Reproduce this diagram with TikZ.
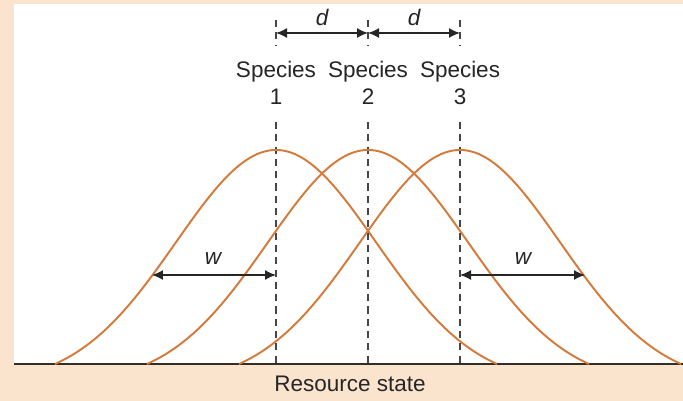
\documentclass[tikz,border=0pt]{standalone}
\usepackage{fontspec}
\setmainfont{Liberation Sans}
\usepackage{xcolor}
\usepackage{tikz}
\usetikzlibrary{arrows.meta, positioning}
\definecolor{figpeach}{RGB}{251,228,206}
\definecolor{figcurve}{RGB}{212,122,58}
\definecolor{figaxis}{RGB}{52,46,40}
\definecolor{figguide}{RGB}{70,70,70}
\tikzstyle{niche} = [draw=figcurve, line width=1.1pt]
\tikzstyle{guide} = [draw=figguide, line width=0.75pt, dash pattern=on 4pt off 3pt]
\tikzstyle{axisline} = [draw=figaxis, line width=1.7pt]
\tikzstyle{arrow} = [{Latex[length=2.2mm, width=2mm]}-{Latex[length=2.2mm, width=2mm]}, line width=0.8pt, draw=black!85]
\tikzstyle{label} = [font=\fontsize{12.8}{15.3}\selectfont, align=center, text=black!85, inner sep=0pt]

\begin{document}
\begin{tikzpicture}[x=0.02cm, y=-0.02cm]
    \useasboundingbox (0,0) rectangle (683,401);
    \fill[figpeach] (0,0) rectangle (683,401);
    \fill[white] (14,4) rectangle (683,364);

    % resource axis
    \coordinate (axl) at (14,364);
    \coordinate (axr) at (683,364);
    \draw[axisline] (axl) -- (axr);
    \node (res) [label] at (350,384) {Resource state};

    % species labels and niche curves
    \foreach \i/\c in {1/276, 2/368, 3/460} {
        \node (sp\i) [label] at (\c,83) {Species\\\i};
        \coordinate (top\i) at (\c,122);
        \coordinate (base\i) at (\c,364);
        \coordinate (tka\i) at (\c,20);
        \coordinate (tkb\i) at (\c,45);
        \draw[guide] (top\i) -- (base\i);
        \draw[guide] (tka\i) -- (tkb\i);
        \draw[niche] plot[domain=-221:221, samples=90, smooth]
            ({\c+\x}, {364-214*(exp(-((\x/100)^2)/2)-0.087)/0.913});
    }

    % spacing d
    \coordinate (d1) at (276,33);
    \coordinate (d2) at (368,33);
    \coordinate (d3) at (460,33);
    \draw[arrow] (d1) -- (d2);
    \draw[arrow] (d2) -- (d3);
    \node (dl) [label] at (322,17) {\itshape d};
    \node (dr) [label] at (414,17) {\itshape d};

    % width w
    \coordinate (wa) at (152,275);
    \coordinate (wb) at (276,275);
    \coordinate (wc) at (460,275);
    \coordinate (wd) at (585,275);
    \draw[arrow] (wa) -- (wb);
    \draw[arrow] (wc) -- (wd);
    \node (wl) [label] at (213,259) {\itshape w};
    \node (wr) [label] at (523,259) {\itshape w};
\end{tikzpicture}
\end{document}
